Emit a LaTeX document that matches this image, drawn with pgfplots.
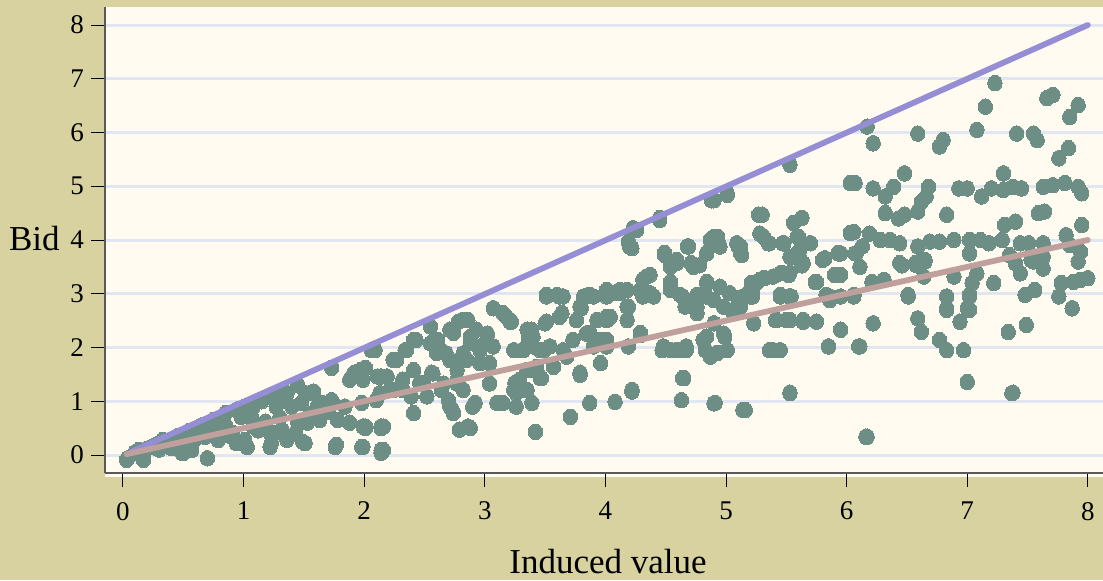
\documentclass[border=0pt]{standalone}
\usepackage{fontspec}
\setmainfont{Liberation Serif}
\usepackage{pgfplots}
\pgfplotsset{compat=1.18}
\definecolor{bgk}{RGB}{215,210,160}
\definecolor{cream}{RGB}{255,251,240}
\definecolor{gridc}{RGB}{226,230,242}
\definecolor{ptc}{RGB}{108,142,132}
\definecolor{purp}{RGB}{149,142,212}
\definecolor{pinkc}{RGB}{192,160,156}
\begin{document}
\begin{tikzpicture}
\path[use as bounding box] (0,0) rectangle (551.5pt,290pt);
\fill[bgk] (0,0) rectangle (551.5pt,290pt);
\fill[cream] (52.5pt,51.5pt) rectangle (551.5pt,53.5pt);
\begin{axis}[
 at={(52.5pt,53.5pt)}, anchor=south west,
 scale only axis, width=499pt, height=233pt,
 xmin=-0.149, xmax=8.126, ymin=-0.335, ymax=8.335,
 axis background/.style={fill=cream},
 axis x line*=bottom, axis y line*=left,
 axis line style={-, draw=gray!70!black, line width=0.8pt},
 tick align=outside, major tick length=7pt,
 tick style={black, line width=0.5pt},
 xtick={0,...,8}, ytick={0,...,8},
 ymajorgrids, grid style={gridc, line width=1.5pt},
 clip marker paths=true,
 /pgf/number format/assume math mode=true,
 ticklabel style={font=\fontsize{13.5}{16}\selectfont},
 xticklabel style={yshift=-4pt},
 xlabel={Induced value}, ylabel={Bid},
 label style={font=\fontsize{17.5}{20}\selectfont},
 xlabel style={at={(axis description cs:0.5,0)}, anchor=base, yshift=-50pt, xshift=2pt},
 ylabel style={rotate=-90, at={(axis description cs:0,0.4785)}, anchor=base east, inner sep=0pt, xshift=-22.5pt},
]
\addplot[ptc, only marks, mark=*, mark size=3.6pt, mark options={draw=ptc, fill=ptc, line width=0pt, yscale=1.08}] coordinates {
(0.04,-0.06) (0.17,-0.09) (0.13,0.09) (0.24,0.15) (0.33,0.28) (0.40,0.13) (0.50,0.04) (0.51,0.22) (0.57,0.15) (0.62,0.46)
(0.70,-0.06) (0.68,0.34) (0.76,0.53) (0.80,0.32) (0.90,0.34) (0.94,0.22) (0.98,0.71) (1.07,0.69) (1.08,0.53) (1.03,0.15)
(1.12,0.46) (1.01,0.90) (1.23,0.22) (1.26,0.41) (1.32,0.46) (1.29,0.97) (1.36,1.15) (1.40,0.90) (1.36,0.28) (1.43,0.41)
(1.48,0.97) (1.51,0.22) (1.51,1.15) (1.58,1.18) (1.53,0.60) (1.62,0.71) (1.65,0.97) (1.73,1.02) (1.76,0.15) (1.73,1.62)
(1.78,0.65) (1.84,0.90) (1.88,0.60) (1.90,1.46) (1.92,1.53) (2.01,1.62) (1.98,0.15) (2.01,0.53) (2.06,1.95) (1.98,0.97)
(2.11,1.46) (2.14,0.04) (2.14,0.53) (2.13,1.15) (0.03,-0.09) (0.35,0.22) (0.49,0.04) (0.57,0.09) (0.79,0.28) (0.91,0.41)
(1.01,0.28) (1.05,0.71) (1.08,0.90) (1.22,0.41) (1.22,0.15) (1.27,0.90) (1.33,1.15) (1.49,0.25) (1.55,1.15) (1.61,0.90)
(1.63,0.65) (1.74,0.97) (1.77,0.19) (1.88,1.40) (1.97,1.58) (1.99,0.53) (2.09,1.95) (2.24,1.77) (2.21,1.21)
(0.10,0.05) (0.20,0.12) (0.28,0.20) (0.45,0.35) (0.55,0.45) (0.65,0.55) (0.75,0.65) (0.85,0.78) (0.95,0.85) (1.15,1.00)
(1.25,1.08) (1.45,1.30) (0.30,0.10) (0.42,0.25) (0.60,0.30) (0.72,0.40) (0.85,0.55) (1.18,0.62) (1.30,0.70) (1.45,0.60)
(1.55,0.75) (1.70,0.80)
(1.99,1.58) (1.99,1.40) (2.14,1.46) (2.01,0.50) (2.14,0.50) (1.99,0.15) (2.14,0.09) (2.10,1.02) (2.23,1.21) (2.25,1.77)
(2.32,1.40) (2.34,1.95) (2.41,2.14) (2.41,1.58) (2.39,1.09) (2.41,0.78) (2.46,1.34) (2.52,1.09) (2.55,2.39) (2.56,1.53)
(2.61,2.14) (2.60,1.90) (2.64,1.21) (2.70,1.02) (2.73,0.84) (2.71,1.77) (2.74,2.27) (2.78,2.48) (2.79,0.47) (2.88,0.50)
(2.77,1.40) (2.82,1.21) (2.86,2.51) (2.85,1.77) (2.88,2.08) (2.92,0.97) (2.93,2.33) (2.96,1.95) (3.02,2.23) (3.04,1.71)
(3.07,2.02) (3.07,2.73) (3.15,2.64) (3.21,2.48) (3.10,0.97) (3.15,0.97) (3.25,1.34) (3.26,0.90) (3.26,1.15) (3.32,1.21)
(3.31,1.95) (3.39,2.33) (3.36,2.14) (3.37,1.58) (3.39,0.97) (3.42,0.43) (3.46,1.95) (3.47,1.43) (3.51,2.95) (3.50,2.45)
(3.54,2.02) (3.60,2.98) (3.62,2.57) (3.65,2.95) (3.65,1.95) (3.71,0.71) (3.73,2.14) (3.76,2.51) (3.79,1.53) (3.80,2.73)
(3.84,2.95) (3.87,2.27) (3.87,0.97) (3.90,2.95) (3.93,2.51) (3.96,1.71) (3.96,2.14) (4.01,3.07) (4.01,2.57) (4.01,2.02)
(3.62,2.95) (3.18,2.57) (3.22,2.48) (3.51,2.48) (3.64,2.64) (3.79,2.76) (3.82,2.95) (4.12,3.07) (4.18,2.76) (4.18,2.51)
(4.04,2.57) (3.84,2.26) (3.90,2.02) (3.79,1.49) (4.08,0.99) (4.22,1.21) (4.65,1.43) (4.63,1.02) (4.90,0.96) (5.14,0.84)
(4.29,2.27) (4.48,2.02) (4.59,1.95) (4.67,2.02) (4.81,2.14) (4.87,1.83) (4.90,2.45) (4.98,2.26) (5.06,2.64) (5.23,2.45)
(5.20,2.95) (4.84,2.95) (4.54,3.07) (4.67,2.88) (4.76,2.76) (3.24,1.95) (3.32,1.95) (3.40,2.02) (3.49,1.95) (3.35,2.33)
(3.40,2.20) (3.29,1.40) (3.24,1.21) (3.35,1.21) (3.46,1.43) (2.86,0.53) (2.71,0.90) (2.74,0.78) (2.90,0.90) (2.57,1.52)
(2.77,1.58) (2.96,1.71) (2.27,1.77) (2.35,1.95) (2.43,2.14) (2.55,2.08) (2.68,1.89) (2.71,2.33) (2.82,2.51) (2.88,2.20)
(2.96,2.02) (3.02,2.26) (2.19,1.46) (2.16,0.53) (2.16,0.09) (2.24,1.21) (2.32,1.21) (2.49,1.33) (2.66,1.33) (2.77,1.33)
(3.04,1.33) (2.82,1.89) (2.79,1.77) (2.63,1.95) (3.35,1.58) (3.43,1.64) (3.68,1.83) (3.57,1.64)
(4.22,1.18) (4.01,2.14) (4.01,2.51) (4.01,2.95) (4.12,3.01) (4.19,2.76) (4.19,2.02) (4.29,2.23) (4.23,4.22) (4.22,3.85)
(4.19,3.97) (4.31,3.26) (4.37,3.35) (4.40,2.95) (4.31,2.95) (4.45,4.41) (4.49,3.76) (4.54,3.50) (4.54,3.20) (4.47,1.95)
(4.54,1.95) (4.59,3.63) (4.62,1.95) (4.64,2.95) (4.64,1.43) (4.66,2.76) (4.68,3.88) (4.71,3.57) (4.67,1.95) (4.76,2.64)
(4.78,2.95) (4.78,3.53) (4.83,1.95) (4.84,2.20) (4.84,3.22) (4.84,3.76) (4.87,4.00) (4.90,4.74) (4.93,4.06) (4.90,2.88)
(4.91,0.97) (4.93,1.90) (4.95,3.88) (4.95,3.13) (4.98,2.76) (5.01,4.87) (5.01,1.95) (4.99,2.20) (5.03,3.01) (5.09,3.94)
(5.12,3.76) (5.09,2.76) (5.14,2.95) (5.22,2.95) (5.24,3.20) (5.30,4.47) (5.31,4.06) (5.31,3.29) (5.36,3.94) (5.39,3.32)
(5.41,2.51) (5.36,1.95) (5.45,1.95) (5.45,2.95) (5.46,3.39) (5.47,3.94) (5.53,5.40) (5.53,1.15) (5.50,2.51) (5.54,2.95)
(5.53,3.39) (5.54,3.69) (5.56,4.32) (5.63,4.41) (5.60,4.06) (5.61,3.81) (5.64,3.57) (5.64,2.51) (5.70,3.94) (5.74,3.22)
(5.75,2.48) (5.80,3.63) (5.85,2.02) (5.86,2.95) (5.90,3.35) (5.93,3.76) (5.95,2.33) (5.95,2.95) (6.03,5.06) (6.03,4.13)
(4.26,4.19) (4.45,4.37) (4.88,4.74) (5.01,4.84) (4.20,3.88) (4.49,3.72) (4.69,3.88) (4.90,4.06) (5.10,3.88) (5.27,4.47)
(5.28,4.12) (4.59,3.57) (4.73,3.50) (4.84,3.75) (4.34,3.32) (4.54,3.22) (4.84,3.20) (5.25,3.20) (3.51,2.98) (3.87,2.98)
(4.07,3.01) (4.18,3.07) (4.29,3.07) (4.37,3.01) (4.62,2.98) (4.76,2.98) (5.03,3.01) (5.17,2.98)
(5.12,3.88) (5.13,3.72) (5.35,3.94) (5.48,3.94) (5.59,4.06) (5.53,3.69) (5.61,3.66) (5.70,3.94) (5.63,3.53) (5.45,3.38)
(5.52,3.35) (5.28,3.26) (5.21,3.20) (5.32,3.29) (5.82,3.66) (5.93,3.75) (5.90,3.35) (5.75,3.22) (5.22,3.01) (5.45,2.98)
(5.12,2.76) (5.16,0.84) (5.39,1.95) (5.53,1.16) (5.42,2.51) (5.53,2.51) (5.64,2.48) (5.75,2.48) (5.52,2.95) (5.86,2.88)
(5.83,2.98) (5.85,2.02) (6.06,2.95) (6.11,2.02) (6.16,0.34) (6.22,2.45) (6.51,2.95) (6.59,2.54) (6.62,2.29) (6.77,2.14)
(6.83,1.95) (6.83,2.73) (6.94,2.48) (6.97,1.95) (7.00,1.36) (7.02,2.70) (7.02,2.98) (7.34,2.29) (7.38,1.16) (7.49,2.42)
(7.48,2.98) (7.76,2.95) (7.87,2.73)
(7.23,6.92) (7.71,6.70) (7.66,6.64) (7.92,6.51) (7.85,6.29) (7.15,6.48) (6.17,6.11) (6.22,5.80) (6.59,5.98) (7.08,6.05)
(6.77,5.74) (6.80,5.86) (7.41,5.98) (7.55,5.98) (7.58,5.86) (7.84,5.71) (7.76,5.52) (6.48,5.24) (7.30,5.24) (6.07,5.06)
(6.22,4.96) (6.39,4.99) (6.32,4.81) (6.68,4.99) (6.66,4.81) (6.62,4.71) (6.59,4.53) (6.93,4.96) (7.00,4.96) (7.12,4.81)
(7.20,4.96) (7.30,4.93) (7.38,4.99) (7.45,4.96) (7.63,4.99) (7.71,5.02) (7.81,5.06) (7.92,4.99) (7.95,4.87) (6.32,4.50)
(6.43,4.40) (6.48,4.47) (6.83,4.47) (7.59,4.50) (7.64,4.53) (7.31,4.28) (7.40,4.34) (7.95,4.28) (6.06,4.15) (6.19,4.12)
(6.28,4.00) (6.36,4.00) (6.44,3.94) (6.59,3.88) (6.69,3.97) (6.77,3.97) (6.89,4.00) (7.02,4.00) (7.11,4.00) (7.18,3.94)
(7.29,4.00) (7.44,3.94) (7.51,3.94) (7.63,3.94) (7.82,4.09) (7.85,3.91) (5.95,3.75) (6.07,3.75) (6.13,3.88) (6.11,3.50)
(6.44,3.57) (6.57,3.57) (6.65,3.63) (7.02,3.75) (7.35,3.72) (7.40,3.57) (7.53,3.63) (7.63,3.69) (7.94,3.78) (7.92,3.60)
(6.08,3.75) (5.95,3.35) (6.06,2.98) (6.21,3.22) (6.31,3.26) (6.46,3.53) (6.58,3.53) (6.65,3.60) (6.64,3.32) (6.51,2.98)
(5.95,2.33) (6.10,2.02) (6.83,2.70) (6.83,2.95) (6.89,3.32) (7.00,2.73) (7.02,2.95) (7.04,3.20) (7.08,3.38) (7.22,3.20)
(7.37,1.15) (7.44,3.38) (7.56,3.07) (7.55,3.60) (7.63,3.47) (7.78,3.20) (7.88,3.22) (8.00,3.29) (7.94,3.26) (6.17,0.34)
};
\addplot[purp, line width=2.9pt, line cap=round] coordinates {(0.07,0.06) (8,8)};
\addplot[pinkc, line width=2.9pt, line cap=round] coordinates {(0.03,0.015) (8,4)};
\end{axis}
\end{tikzpicture}
\end{document}
